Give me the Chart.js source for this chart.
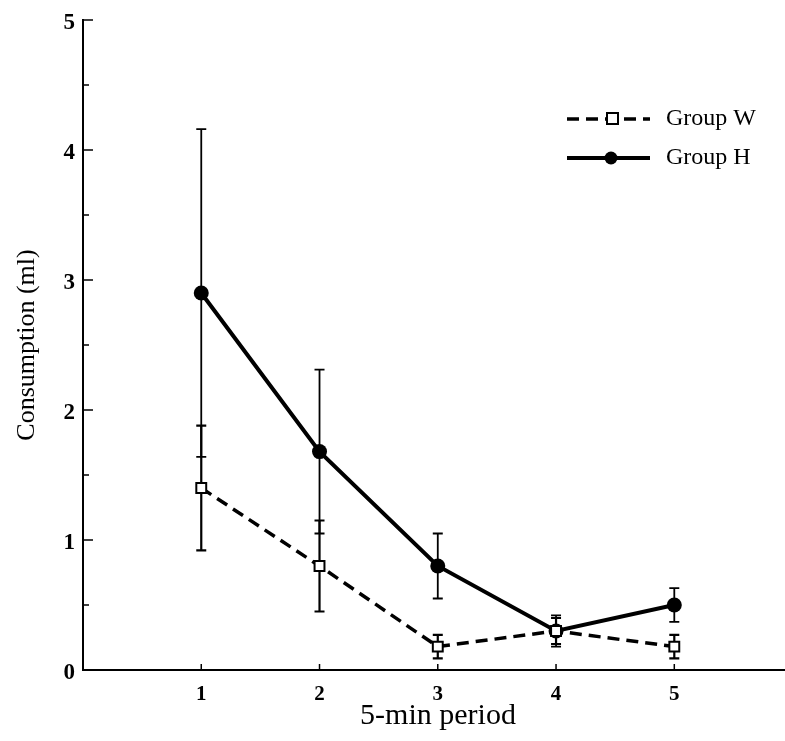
<!DOCTYPE html>
<html>
<head>
<meta charset="utf-8">
<script src="https://cdn.jsdelivr.net/npm/chart.js@4"></script>
<style>
  body { margin: 0; background: #fff; }
  #wrap { width: 785px; height: 741px; }
</style>
</head>
<body>
<div id="wrap"><canvas id="chart" width="785" height="741"></canvas></div>
<script>
// data
const periods = [1, 2, 3, 4, 5];
const groupW = [1.4, 0.8, 0.18, 0.3, 0.18];
const groupWErr = [0.48, 0.35, 0.09, 0.1, 0.09];
const groupH = [2.9, 1.68, 0.8, 0.3, 0.5];
const groupHErr = [1.26, 0.63, 0.25, 0.12, 0.13];
const yTicks = [0, 1, 2, 3, 4, 5];
const seriesNames = ["Group W", "Group H"];
const xTitle = "5-min period";

const serif = "'Liberation Serif', 'Times New Roman', serif";

// error bars, drawn under the markers
const errorBars = {
  id: "errorBars",
  beforeDatasetsDraw(chart) {
    const ctx = chart.ctx;
    const x = chart.scales.x, y = chart.scales.y;
    const errs = [groupWErr, groupHErr];
    const vals = [groupW, groupH];
    ctx.save();
    ctx.strokeStyle = "#000";
    errs.forEach((err, s) => {
      ctx.lineWidth = s === 1 ? 1.8 : 2.2;
      periods.forEach((p, i) => {
        const px = x.getPixelForValue(p);
        const top = y.getPixelForValue(vals[s][i] + err[i]);
        const bot = y.getPixelForValue(vals[s][i] - err[i]);
        ctx.beginPath();
        ctx.moveTo(px, top); ctx.lineTo(px, bot);
        ctx.moveTo(px - 5, top); ctx.lineTo(px + 5, top);
        ctx.moveTo(px - 5, bot); ctx.lineTo(px + 5, bot);
        ctx.stroke();
      });
    });
    ctx.restore();
  },
  afterDraw(chart) {
    const ctx = chart.ctx;
    const x = chart.scales.x, y = chart.scales.y;
    const a = chart.chartArea;
    ctx.save();
    ctx.strokeStyle = "#000";

    // x axis runs on to the edge of the figure
    ctx.lineWidth = 2;
    ctx.beginPath();
    ctx.moveTo(a.right - 1, a.bottom); ctx.lineTo(chart.width, a.bottom);
    ctx.stroke();

    ctx.lineWidth = 1.5;
    ctx.beginPath();
    // inward ticks on y axis (major + half steps)
    for (let v = 0.5; v <= 5; v += 0.5) {
      const py = y.getPixelForValue(v);
      const len = Number.isInteger(v) ? 10 : 6;
      ctx.moveTo(a.left, py); ctx.lineTo(a.left + len, py);
    }
    // inward ticks on x axis
    periods.forEach((p) => {
      const px = x.getPixelForValue(p);
      ctx.moveTo(px, a.bottom); ctx.lineTo(px, a.bottom - 6);
    });
    ctx.stroke();

    // x axis title, centred on the full axis length
    ctx.fillStyle = "#000";
    ctx.font = "30px " + serif;
    ctx.textAlign = "center";
    ctx.textBaseline = "middle";
    ctx.fillText(xTitle, (a.left + chart.width + 8) / 2, 716);

    // legend
    const rows = [
      { y: 119, ds: chart.data.datasets[0] },
      { y: 158, ds: chart.data.datasets[1] }
    ];
    ctx.textAlign = "left";
    rows.forEach((r, i) => {
      ctx.setLineDash(r.ds.borderDash || []);
      ctx.lineWidth = r.ds.borderWidth;
      ctx.beginPath();
      ctx.moveTo(567, r.y); ctx.lineTo(650, r.y);
      ctx.stroke();
      ctx.setLineDash([]);
      ctx.lineWidth = 2;
      if (i === 0) {
        ctx.fillStyle = "#fff";
        ctx.fillRect(607, r.y - 6, 11, 11);
        ctx.strokeRect(607, r.y - 6, 11, 11);
      } else {
        ctx.fillStyle = "#000";
        ctx.beginPath();
        ctx.arc(611, r.y, 6.5, 0, Math.PI * 2);
        ctx.fill();
      }
      ctx.fillStyle = "#000";
      ctx.font = "24px " + serif;
      ctx.fillText(seriesNames[i], 666, r.y);
    });
    ctx.restore();
  }
};

new Chart(document.getElementById("chart"), {
  type: "scatter",
  data: {
    datasets: [
      {
        label: seriesNames[0],
        data: periods.map((p, i) => ({ x: p, y: groupW[i] })),
        showLine: true,
        borderColor: "#000",
        borderWidth: 3.5,
        borderDash: [12, 7],
        pointStyle: "rect",
        pointRadius: 7,
        pointBorderWidth: 2,
        pointBackgroundColor: "#fff",
        pointBorderColor: "#000"
      },
      {
        label: seriesNames[1],
        data: periods.map((p, i) => ({ x: p, y: groupH[i] })),
        showLine: true,
        borderColor: "#000",
        borderWidth: 4,
        pointStyle: "circle",
        pointRadius: 7.5,
        pointBorderWidth: 0,
        pointBackgroundColor: "#000",
        pointBorderColor: "#000"
      }
    ]
  },
  options: {
    responsive: false,
    animation: false,
    layout: { padding: { left: 0, top: 20, right: 0, bottom: 0 } },
    plugins: { legend: { display: false }, tooltip: { enabled: false } },
    scales: {
      x: {
        type: "linear",
        min: 0,
        max: 5.86,
        afterBuildTicks: (s) => { s.ticks = periods.map((v) => ({ value: v })); },
        afterFit: (s) => { s.height = 71; },
        grid: { display: false },
        border: { display: true, color: "#000", width: 2 },
        ticks: {
          color: "#000",
          padding: 4,
          font: { family: serif, size: 21, weight: "bold" }
        },
        title: { display: false }
      },
      y: {
        min: 0,
        max: 5,
        afterBuildTicks: (s) => { s.ticks = yTicks.map((v) => ({ value: v })); },
        afterFit: (s) => { s.width = 83; },
        grid: { display: false },
        border: { display: true, color: "#000", width: 2 },
        ticks: {
          color: "#000",
          padding: 0,
          labelOffset: 3,
          font: { family: serif, size: 23, weight: "bold" }
        },
        title: {
          display: true,
          text: "Consumption (ml)",
          color: "#000",
          padding: { top: 12, bottom: 0 },
          font: { family: serif, size: 26 }
        }
      }
    }
  },
  plugins: [errorBars]
});
</script>
</body>
</html>
